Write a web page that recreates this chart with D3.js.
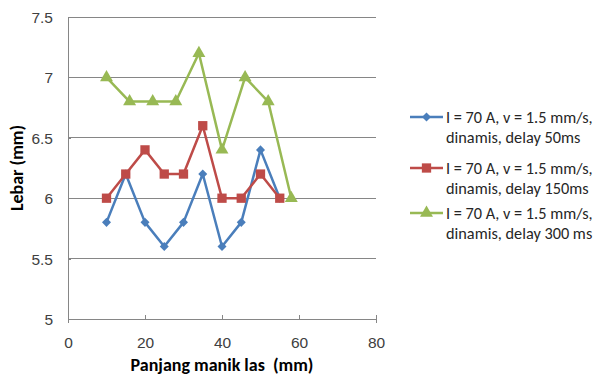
<!DOCTYPE html>
<html>
<head>
<meta charset="utf-8">
<script src="https://cdn.jsdelivr.net/npm/d3@7"></script>
<style>
  body { margin: 0; background: #fff; }
  svg { font-family: Carlito, Calibri, "Liberation Sans", "Open Sans", sans-serif; }
  .tick text { fill: #404040; font-size: 15.5px; }
  .title { font-weight: bold; font-size: 18px; fill: #000; }
  .legend text { font-size: 16.3px; fill: #262626; }
</style>
</head>
<body>
<div id="chart"></div>
<script>
var xDelay50 = [10, 15, 20, 25, 30, 35, 40, 45, 50, 55];
var yDelay50 = [5.8, 6.2, 5.8, 5.6, 5.8, 6.2, 5.6, 5.8, 6.4, 6.0];

var xDelay150 = [10, 15, 20, 25, 30, 35, 40, 45, 50, 55];
var yDelay150 = [6.0, 6.2, 6.4, 6.2, 6.2, 6.6, 6.0, 6.0, 6.2, 6.0];

var xDelay300 = [10, 16, 22, 28, 34, 40, 46, 52, 58];
var yDelay300 = [7.0, 6.8, 6.8, 6.8, 7.2, 6.4, 7.0, 6.8, 6.0];

var seriesNames = [
    ["I = 70 A, v = 1.5 mm/s,", "dinamis, delay 50ms"],
    ["I = 70 A, v = 1.5 mm/s,", "dinamis, delay 150ms"],
    ["I = 70 A, v = 1.5 mm/s,", "dinamis, delay 300 ms"]
];
var xTicks = [0, 20, 40, 60, 80];
var yTicks = [5, 5.5, 6, 6.5, 7, 7.5];

var colors = ["#4a7ebb", "#be4b48", "#98b954"];
var symbols = [d3.symbolDiamond2, d3.symbolSquare2, d3.symbolTriangle2];
var symbolSizes = [52, 110, 120];

var W = 595, H = 376;
var plot = {left: 68, right: 376, top: 17, bottom: 319};

var x = d3.scaleLinear().domain([0, 80]).range([plot.left, plot.right]);
var y = d3.scaleLinear().domain([5, 7.5]).range([plot.bottom, plot.top]);

var svg = d3.select("#chart").append("svg")
    .attr("width", W)
    .attr("height", H);

// gridlines
svg.append("g")
    .selectAll("line")
    .data(yTicks.slice(1))
    .enter().append("line")
    .attr("x1", plot.left).attr("x2", plot.right)
    .attr("y1", function(d) { return y(d); })
    .attr("y2", function(d) { return y(d); })
    .attr("stroke", "#868686")
    .attr("stroke-width", 1)
    .attr("shape-rendering", "crispEdges");

var xAxis = svg.append("g")
    .attr("transform", "translate(0," + plot.bottom + ")")
    .call(d3.axisBottom(x).tickValues(xTicks).tickSize(4).tickPadding(14));

var yAxis = svg.append("g")
    .attr("transform", "translate(" + plot.left + ",0)")
    .call(d3.axisLeft(y).tickValues(yTicks).tickFormat(d3.format("")).tickSize(-3).tickPadding(15));

[xAxis, yAxis].forEach(function(ax) {
    ax.select(".domain").attr("stroke", "#868686").attr("shape-rendering", "crispEdges");
    ax.selectAll(".tick line").attr("stroke", "#868686").attr("shape-rendering", "crispEdges");
});
xAxis.selectAll(".tick line").attr("y1", -4).attr("y2", 0);
yAxis.selectAll(".tick text").attr("dy", "0.35em");

svg.append("text")
    .attr("class", "title")
    .attr("x", 222).attr("y", 371)
    .attr("text-anchor", "middle")
    .attr("xml:space", "preserve")
    .text("Panjang manik las  (mm)");

svg.append("text")
    .attr("class", "title")
    .attr("transform", "translate(23,168) rotate(-90)")
    .attr("text-anchor", "middle")
    .text("Lebar (mm)");

var series = [
    d3.zip(xDelay50, yDelay50),
    d3.zip(xDelay150, yDelay150),
    d3.zip(xDelay300, yDelay300)
];

var line = d3.line()
    .x(function(d) { return x(d[0]); })
    .y(function(d) { return y(d[1]); });

series.forEach(function(s, i) {
    var g = svg.append("g");
    g.append("path")
        .datum(s)
        .attr("d", line)
        .attr("fill", "none")
        .attr("stroke", colors[i])
        .attr("stroke-width", 2.5)
        .attr("stroke-linejoin", "round");
    g.selectAll("path.pt")
        .data(s)
        .enter().append("path")
        .attr("class", "pt")
        .attr("transform", function(d) { return "translate(" + x(d[0]) + "," + y(d[1]) + ")"; })
        .attr("d", d3.symbol().type(symbols[i]).size(symbolSizes[i]))
        .attr("fill", colors[i]);
});

// legend
var legendY = [117, 168, 213];
var legend = svg.append("g").attr("class", "legend");
seriesNames.forEach(function(name, i) {
    var g = legend.append("g").attr("transform", "translate(410," + legendY[i] + ")");
    g.append("line")
        .attr("x1", 0).attr("x2", 33)
        .attr("stroke", colors[i]).attr("stroke-width", 2.5);
    g.append("path")
        .attr("transform", "translate(16.5,0)")
        .attr("d", d3.symbol().type(symbols[i]).size(symbolSizes[i]))
        .attr("fill", colors[i]);
    g.append("text")
        .attr("x", 36).attr("y", 0).attr("dy", "0.35em")
        .text(name[0]);
    g.append("text")
        .attr("x", 36).attr("y", 20).attr("dy", "0.35em")
        .text(name[1]);
});
</script>
</body>
</html>
